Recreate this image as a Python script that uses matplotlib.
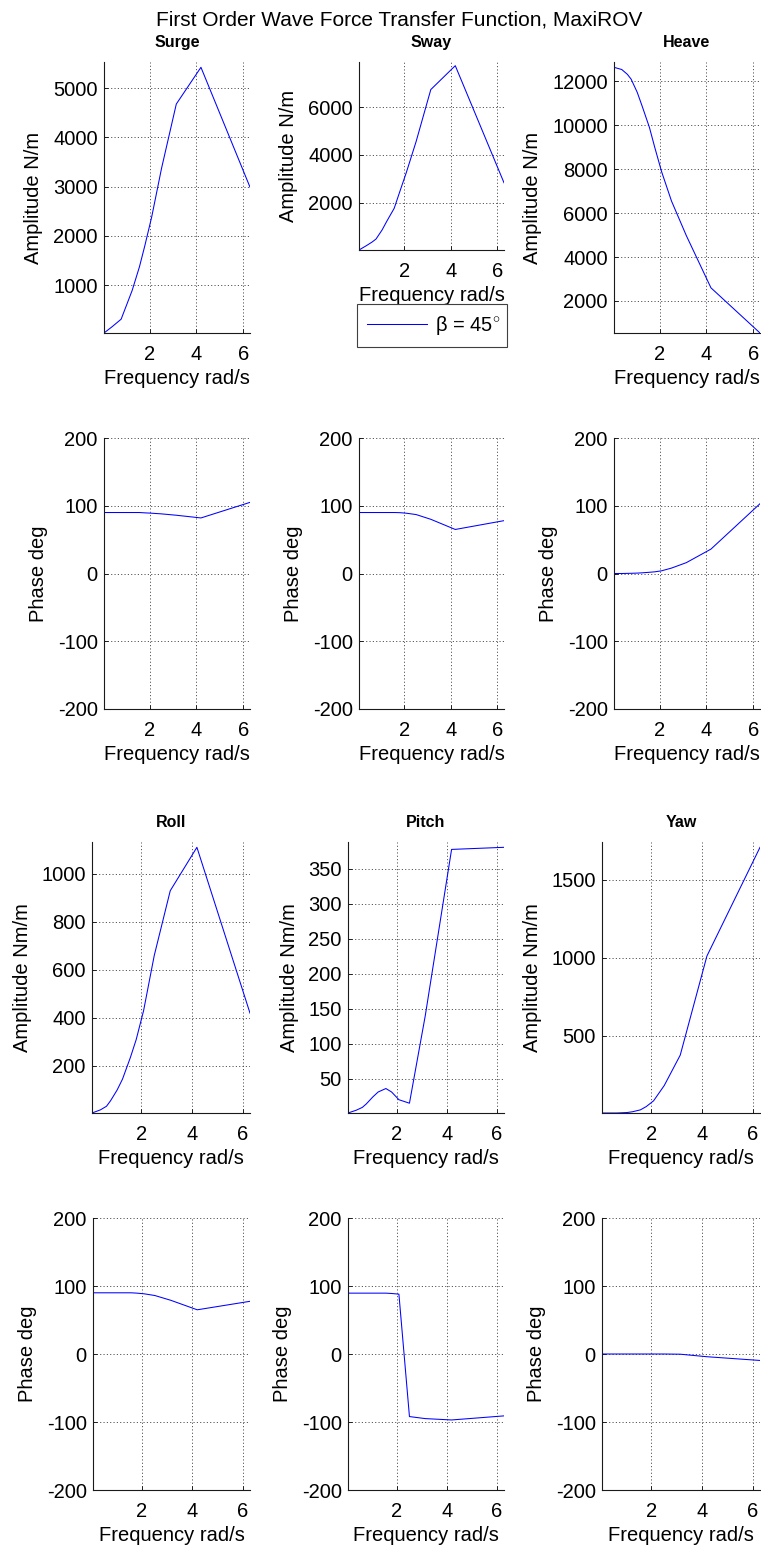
import matplotlib
matplotlib.use("Agg")
import matplotlib.pyplot as plt
from matplotlib.ticker import MultipleLocator

plt.rcParams['font.family'] = ['Liberation Sans', 'DejaVu Sans']
plt.rcParams['mathtext.fontset'] = 'custom'
plt.rcParams['mathtext.rm'] = 'Liberation Sans'
plt.rcParams['mathtext.it'] = 'Liberation Sans:italic'
plt.rcParams['lines.scale_dashes'] = False
plt.rcParams['axes.unicode_minus'] = False

W, H = 761, 1546

# wave frequencies, rad/s
w = [0.06, 0.39, 0.63, 0.79, 1.05, 1.26, 1.57, 1.80, 2.09, 2.51, 3.14, 4.19, 6.28]

# force amplitudes N/m
amp_surge = [24, 146, 241, 305, 628, 890, 1370, 1800, 2380, 3370, 4680, 5427, 2990]
amp_sway = [10, 200, 350, 470, 850, 1230, 1760, 2430, 3260, 4560, 6740, 7742, 2830]
amp_heave = [12640, 12540, 12320, 12100, 11500, 10870, 9900, 8980, 7880, 6550, 4980, 2600, 543]
# moment amplitudes Nm/m
amp_roll = [4, 17, 32, 55, 100, 145, 235, 310, 430, 660, 930, 1111, 420]
amp_pitch = [1, 5, 9, 14, 24, 31, 36, 31, 20, 15, 140, 378, 381]
amp_yaw = [4, 4, 4, 5, 7, 12, 24, 45, 82, 180, 375, 1010, 1707]

# phases, deg
ph_surge = [90, 90, 90, 90, 90, 90, 90, 89.5, 89, 88, 86, 82, 105]
ph_sway = [90, 90, 90, 90, 90, 90, 90, 89.8, 89, 87, 80, 65, 78]
ph_heave = [0, 0, 0.2, 0.3, 0.6, 1, 1.8, 2.5, 4, 8, 16, 36, 103]
ph_roll = [90, 90, 90, 90, 90, 90, 90, 89.5, 88.5, 86, 79, 65, 77.5]
ph_pitch = [89.5, 89.5, 89.5, 89.5, 89.5, 89.5, 89.5, 89, 88, -92, -95, -97, -91]
ph_yaw = [0, 0, 0, 0, 0, 0, 0, 0, 0, 0, -0.3, -4, -9.5]

fig = plt.figure(figsize=(W / 100, H / 100), dpi=100)


def px_axes(left, right, top, bottom):
    # axes placed by pixel edges, origin at top left
    return fig.add_axes([left / W, 1 - bottom / H, (right - left) / W, (bottom - top) / H])


def style(ax, ystep, ylabel):
    ax.set_xlim(w[0], w[-1])
    ax.xaxis.set_major_locator(MultipleLocator(2))
    ax.yaxis.set_major_locator(MultipleLocator(ystep))
    ax.grid(True, linestyle=(0, (0.8, 1.6)), color='0.2', linewidth=0.6)
    for side in ['top', 'right']:
        ax.spines[side].set_visible(False)
    for side in ['left', 'bottom']:
        ax.spines[side].set_linewidth(0.8)
        ax.spines[side].set_color('0.1')
    ax.tick_params(direction='in', length=3, width=0.6, labelsize=14.5)
    ax.tick_params(axis='x', pad=8.5)
    ax.tick_params(axis='y', pad=4.5)
    ax.set_xlabel('Frequency rad/s', fontsize=14.5, labelpad=4)
    ax.set_ylabel(ylabel, fontsize=14.5, labelpad=7)


def amp_panel(rect, title, values, ystep, ylabel):
    ax = px_axes(*rect)
    line, = ax.plot(w, values, color='blue', linewidth=0.75)
    lo, hi = min(values), max(values)
    ax.set_ylim(lo, lo + 1.02 * (hi - lo))
    style(ax, ystep, ylabel)
    ax.set_title(title, fontsize=11.5, fontweight='bold', pad=10.8)
    return ax, line


def phase_panel(rect, values):
    ax = px_axes(*rect)
    ax.plot(w, values, color='blue', linewidth=0.75)
    ax.set_ylim(-200, 200)
    style(ax, 100, 'Phase deg')
    return ax


# forces
amp_panel((104, 250, 62, 333), 'Surge', amp_surge, 1000, 'Amplitude N/m')
ax_sway, sway_line = amp_panel((359, 504, 62, 250), 'Sway', amp_sway, 2000, 'Amplitude N/m')
amp_panel((614, 760, 62, 333), 'Heave', amp_heave, 2000, 'Amplitude N/m')
phase_panel((104, 250, 438, 709), ph_surge)
phase_panel((359, 504, 438, 709), ph_sway)
phase_panel((614, 760, 438, 709), ph_heave)

# moments
amp_panel((92, 250, 842, 1113), 'Roll', amp_roll, 200, 'Amplitude Nm/m')
amp_panel((348, 504, 842, 1113), 'Pitch', amp_pitch, 50, 'Amplitude Nm/m')
amp_panel((602, 760, 842, 1113), 'Yaw', amp_yaw, 500, 'Amplitude Nm/m')
phase_panel((93, 250, 1218, 1490), ph_roll)
phase_panel((348, 504, 1218, 1490), ph_pitch)
phase_panel((602, 760, 1218, 1490), ph_yaw)

# legend box under the sway amplitude plot
leg = ax_sway.legend([sway_line], ['\u03b2 = 45$^{\\circ}$'], loc='upper left',
                     bbox_to_anchor=(357 / W, 1 - 347 / H, 150 / W, 43 / H),
                     bbox_transform=fig.transFigure, mode='expand', borderaxespad=0,
                     frameon=True, fancybox=False, edgecolor='0.25', framealpha=1,
                     fontsize=14.5, handlelength=3.0, handletextpad=0.35, borderpad=0.5)
leg.get_frame().set_linewidth(0.8)

fig.text(398.7 / W, 1 - 25.5 / H, 'First Order Wave Force Transfer Function, MaxiROV',
         ha='center', va='baseline', fontsize=15)

fig.savefig('out.png', dpi=100)
